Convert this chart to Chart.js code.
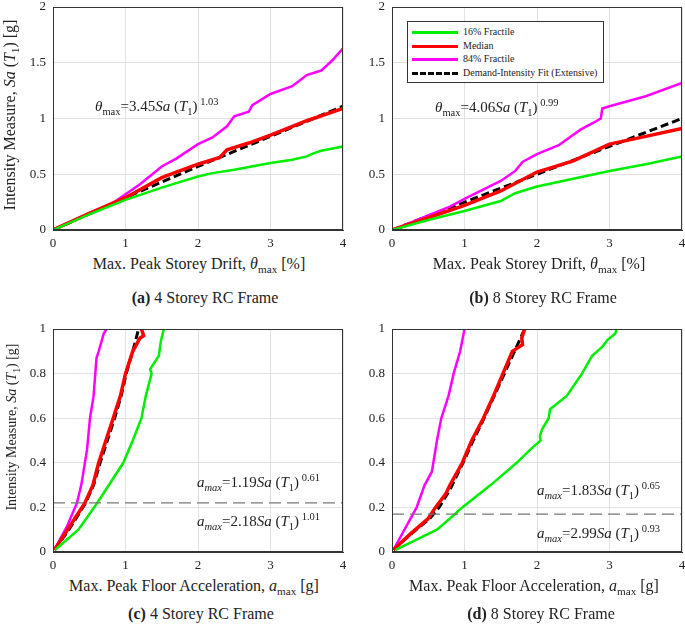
<!DOCTYPE html>
<html>
<head>
<meta charset="utf-8">
<script src="https://cdn.jsdelivr.net/npm/chart.js@4.4.1/dist/chart.umd.min.js"></script>
<style>
  body { margin:0; width:685px; height:625px; overflow:hidden; background:#fff; position:relative;
         font-family:'Liberation Serif','DejaVu Serif',serif; color:#222; }
  canvas { position:absolute; }
  .t { position:absolute; white-space:nowrap; transform:translate(-50%,-50%); }
  .ytitle { position:absolute; white-space:nowrap; transform:translate(-50%,-50%) rotate(-90deg); }
  .ann { position:absolute; white-space:nowrap; font-size:15px; }
  sub, sup { font-size:70%; }
  sub { vertical-align:-0.35em; }
  sup { vertical-align:0.6em; }
  .legend { position:absolute; left:407px; top:21px; width:195px; height:60px; border:1px solid #333;
            background:#fff; font-size:10px; }
  .legend div { position:absolute; left:4px; height:12px; line-height:12px; white-space:nowrap; }
  .legend span.sw { display:inline-block; width:46px; vertical-align:middle; margin-right:5px; }
</style>
</head>
<body>
<canvas id="ca" width="350" height="250" style="left:0;top:0"></canvas>
<canvas id="cb" width="350" height="250" style="left:339px;top:0"></canvas>
<canvas id="cc" width="350" height="262" style="left:0;top:310px"></canvas>
<canvas id="cd" width="350" height="262" style="left:339px;top:310px"></canvas>

<!-- axis titles and captions -->
<div class="ytitle" style="left:11px;top:115px;font-size:16px">Intensity Measure, <i>Sa</i> (<i>T</i><sub>1</sub>) [g]</div>
<div class="t" style="left:199px;top:265px;font-size:16px">Max. Peak Storey Drift, <i>θ</i><sub>max</sub> [%]</div>
<div class="t" style="left:205px;top:298px;font-size:16px"><b>(a)</b> 4 Storey RC Frame</div>

<div class="t" style="left:539px;top:265px;font-size:16px">Max. Peak Storey Drift, <i>θ</i><sub>max</sub> [%]</div>
<div class="t" style="left:543px;top:298px;font-size:16px"><b>(b)</b> 8 Storey RC Frame</div>

<div class="ytitle" style="left:13px;top:427px;font-size:14px">Intensity Measure, <i>Sa</i> (<i>T</i><sub>1</sub>) [g]</div>
<div class="t" style="left:194px;top:587px;font-size:16px">Max. Peak Floor Acceleration, <i>a</i><sub>max</sub> [g]</div>
<div class="t" style="left:201px;top:614px;font-size:16px"><b>(c)</b> 4 Storey RC Frame</div>

<div class="t" style="left:534px;top:587px;font-size:16px">Max. Peak Floor Acceleration, <i>a</i><sub>max</sub> [g]</div>
<div class="t" style="left:541px;top:614px;font-size:16px"><b>(d)</b> 8 Storey RC Frame</div>

<!-- equations -->
<div class="ann" style="left:95px;top:96px"><i>θ</i><sub>max</sub>=3.45<i>Sa</i> (<i>T</i><sub>1</sub>)<sup> 1.03</sup></div>
<div class="ann" style="left:435px;top:97px"><i>θ</i><sub>max</sub>=4.06<i>Sa</i> (<i>T</i><sub>1</sub>)<sup> 0.99</sup></div>
<div class="ann" style="left:197px;top:472px"><i>a<sub>max</sub></i>=1.19<i>Sa</i> (<i>T</i><sub>1</sub>)<sup> 0.61</sup></div>
<div class="ann" style="left:197px;top:511px"><i>a<sub>max</sub></i>=2.18<i>Sa</i> (<i>T</i><sub>1</sub>)<sup> 1.01</sup></div>
<div class="ann" style="left:537px;top:480px"><i>a<sub>max</sub></i>=1.83<i>Sa</i> (<i>T</i><sub>1</sub>)<sup> 0.65</sup></div>
<div class="ann" style="left:537px;top:523px"><i>a<sub>max</sub></i>=2.99<i>Sa</i> (<i>T</i><sub>1</sub>)<sup> 0.93</sup></div>

<div class="legend">
  <div style="top:4px"><span class="sw" style="border-top:3px solid #00ee00"></span>16% Fractile</div>
  <div style="top:18px"><span class="sw" style="border-top:3px solid #ff0000"></span>Median</div>
  <div style="top:31px"><span class="sw" style="border-top:3px solid #ff00ff"></span>84% Fractile</div>
  <div style="top:45px"><span class="sw" style="border-top:3px dashed #000"></span>Demand-Intensity Fit (Extensive)</div>
</div>

<script>
// ---- data: [x, Sa] pairs ----
// (a) 4 storey, drift [%]
const a16 = [[0,0],[0.5,0.14],[1,0.27],[1.5,0.38],[1.6,0.4],[2,0.48],[2.2,0.51],[2.5,0.54],[3,0.6],[3.3,0.63],[3.5,0.66],[3.6,0.69],[3.7,0.71],[4,0.75]];
const aMed = [[0,0],[0.5,0.15],[1,0.29],[1.5,0.47],[1.7,0.52],[2,0.59],[2.3,0.65],[2.4,0.72],[2.7,0.78],[3,0.85],[3.5,0.98],[4,1.09]];
const a84 = [[0,0],[0.5,0.15],[0.8,0.23],[1,0.32],[1.2,0.41],[1.5,0.57],[1.7,0.64],[2,0.77],[2.2,0.83],[2.4,0.93],[2.5,1.02],[2.7,1.06],[2.75,1.12],[3,1.22],[3.3,1.29],[3.5,1.39],[3.7,1.43],[3.85,1.52],[4,1.63]];
const aFit = [[0,0],[1,0.29],[2,0.57],[3,0.84],[4,1.11]];
// (b) 8 storey, drift [%]
const b16 = [[0,0],[0.5,0.09],[1,0.17],[1.5,0.26],[1.7,0.33],[1.9,0.37],[2,0.39],[2.5,0.46],[3,0.53],[3.5,0.59],[4,0.66]];
const bMed = [[0,0],[0.5,0.11],[1,0.22],[1.5,0.35],[2,0.52],[2.5,0.62],[3,0.77],[3.5,0.84],[4,0.91]];
const b84 = [[0,0],[0.5,0.13],[0.8,0.21],[1,0.28],[1.5,0.44],[1.7,0.53],[1.75,0.57],[1.8,0.61],[2,0.68],[2.3,0.76],[2.6,0.9],[2.8,0.97],[2.88,1.0],[2.9,1.09],[3,1.11],[3.5,1.2],[4,1.32]];
const bFit = [[0,0],[1,0.25],[2,0.5],[3,0.75],[4,1.0]];
// (c) 4 storey, floor acceleration [g]
const c16 = [[0.03,0.01],[0.35,0.1],[0.61,0.22],[0.97,0.4],[1.1,0.5],[1.22,0.6],[1.28,0.7],[1.36,0.8],[1.34,0.82],[1.46,0.88],[1.49,0.95],[1.53,1.0]];
const cMed = [[0.02,0.01],[0.2,0.1],[0.44,0.22],[0.55,0.3],[0.63,0.4],[0.73,0.5],[0.83,0.6],[0.93,0.7],[1.0,0.8],[1.1,0.9],[1.2,0.96],[1.25,0.97],[1.22,1.0]];
const c84 = [[0.02,0.01],[0.2,0.12],[0.33,0.22],[0.39,0.3],[0.47,0.46],[0.51,0.6],[0.56,0.7],[0.6,0.87],[0.63,0.9],[0.7,0.98],[0.74,1.0]];
const cFit = [[0.02,0.01],[0.22,0.1],[0.45,0.22],[0.56,0.3],[0.65,0.4],[0.75,0.5],[0.85,0.6],[0.94,0.7],[1.01,0.8],[1.1,0.9],[1.18,1.0]];
const cLimit = [[0,0.22],[4,0.22]];
// (d) 8 storey, floor acceleration [g]
const d16 = [[0.05,0.01],[0.62,0.1],[0.8,0.15],[0.97,0.2],[1.36,0.3],[1.72,0.4],[1.91,0.46],[2.05,0.5],[2.04,0.52],[2.07,0.55],[2.16,0.6],[2.18,0.64],[2.41,0.7],[2.62,0.8],[2.76,0.88],[2.9,0.92],[2.97,0.95],[3.08,0.98],[3.1,1.0]];
const dMed = [[0.02,0.01],[0.25,0.08],[0.5,0.15],[0.6,0.2],[0.74,0.26],[0.8,0.3],[0.97,0.4],[1.1,0.5],[1.26,0.6],[1.4,0.7],[1.53,0.8],[1.66,0.9],[1.8,0.93],[1.79,0.96],[1.83,1.0]];
const d84 = [[0.02,0.01],[0.34,0.2],[0.45,0.3],[0.55,0.36],[0.62,0.5],[0.68,0.6],[0.78,0.7],[0.85,0.8],[0.94,0.9],[1.0,1.0]];
const dFit = [[0.02,0.01],[0.26,0.08],[0.52,0.15],[0.65,0.2],[0.8,0.28],[0.98,0.4],[1.12,0.5],[1.27,0.6],[1.41,0.7],[1.55,0.8],[1.69,0.9],[1.83,1.0]];
const dLimit = [[0,0.17],[4,0.17]];

const xTicks = [0, 1, 2, 3, 4];
const yTicksTop = [0, 0.5, 1, 1.5, 2];
const yTicksBottom = [0, 0.2, 0.4, 0.6, 0.8, 1];

const FONT = "'Liberation Serif','DejaVu Serif',serif";

const boxPlugin = {
  id: 'box',
  afterDraw(chart) {
    const a = chart.chartArea, ctx = chart.ctx;
    ctx.save();
    ctx.strokeStyle = '#333';
    ctx.lineWidth = 1;
    ctx.strokeRect(a.left + 0.5, a.top + 0.5, a.right - a.left - 1, a.bottom - a.top - 1);
    ctx.restore();
  }
};

function line(pts, color, width, dash) {
  return {
    data: pts.map(p => ({ x: p[0], y: p[1] })),
    borderColor: color,
    borderWidth: width,
    borderDash: dash || [],
    pointRadius: 0,
    tension: 0,
    fill: false
  };
}

function makePanel(id, series, limit, yTicks, padTop) {
  const ds = [
    line(series[0], '#00ee00', 2.5),
    line(series[1], '#ff0000', 3.5),
    line(series[2], '#ff00ff', 2.5),
    line(series[3], '#000000', 3, [8, 4])
  ];
  if (limit) ds.unshift(line(limit, '#777777', 1.2, [12, 6]));
  new Chart(document.getElementById(id), {
    type: 'line',
    data: { datasets: ds },
    options: {
      responsive: false,
      animation: false,
      layout: { padding: { top: padTop, right: 7, left: 0, bottom: 0 } },
      plugins: { legend: { display: false }, tooltip: { enabled: false } },
      scales: {
        x: {
          type: 'linear', min: xTicks[0], max: xTicks[xTicks.length - 1],
          afterBuildTicks: s => { s.ticks = xTicks.map(v => ({ value: v })); },
          afterFit: s => { s.height = 20; s.paddingLeft = 0; s.paddingRight = 0; },
          grid: { color: '#e2e2e2', drawTicks: false },
          border: { color: '#333' },
          ticks: { padding: 6, color: '#222', font: { family: FONT, size: 13 }, maxRotation: 0,
                   callback: v => String(v) }
        },
        y: {
          type: 'linear', min: yTicks[0], max: yTicks[yTicks.length - 1],
          afterBuildTicks: s => { s.ticks = yTicks.map(v => ({ value: v })); },
          afterFit: s => { s.width = 53; s.paddingTop = 0; s.paddingBottom = 0; },
          grid: { color: '#e2e2e2', drawTicks: false },
          border: { color: '#333' },
          ticks: { padding: 7, color: '#222', font: { family: FONT, size: 13 },
                   callback: v => String(v) }
        }
      }
    },
    plugins: [boxPlugin]
  });
}

makePanel('ca', [a16, aMed, a84, aFit], null, yTicksTop, 7);
makePanel('cb', [b16, bMed, b84, bFit], null, yTicksTop, 7);
makePanel('cc', [c16, cMed, c84, cFit], cLimit, yTicksBottom, 19);
makePanel('cd', [d16, dMed, d84, dFit], dLimit, yTicksBottom, 19);
</script>
</body>
</html>
